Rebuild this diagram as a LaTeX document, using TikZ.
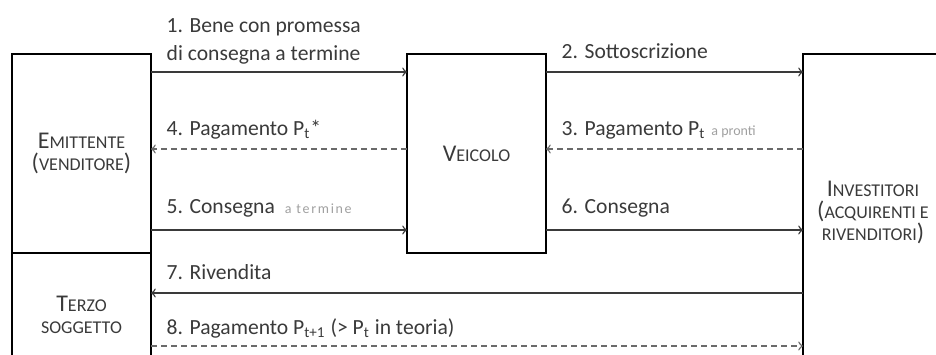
\documentclass[tikz,border=0pt]{standalone}
\usepackage{fontspec}
\setmainfont{Carlito}
\usepackage{xcolor}
\usepackage{tikz}
\usetikzlibrary{arrows, positioning}

\definecolor{txtgray}{HTML}{3A3A3A}
\definecolor{notegray}{HTML}{A0A0A0}
\definecolor{dashgray}{HTML}{6A6A6A}

\newcommand{\capsc}[2]{#1{\fontsize{9}{11}\selectfont #2}}
\newcommand{\smallsc}[1]{{\fontsize{9}{11}\selectfont #1}}
\newcommand{\notetxt}[1]{{\color{notegray}\fontsize{7}{8}\selectfont #1}}

\begin{document}
\begin{tikzpicture}[x=0.5pt, y=-0.5pt,
    party/.style={rectangle, draw, line width=1.4pt, outer sep=0pt, inner sep=0pt, minimum width=69.5pt, text=txtgray, align=center, font=\fontsize{12}{11}\selectfont},
    flow/.style={->, line width=0.7pt, draw=txtgray},
    back/.style={->, line width=0.7pt, draw=dashgray, dash pattern=on 3pt off 2pt},
    lbl/.style={anchor=base west, inner sep=0pt, xshift=7.5pt, yshift=7pt, text=txtgray, align=left, font=\fontsize{10.8}{14}\selectfont}]
    \useasboundingbox (0,0) rectangle (936,354);
    \clip (0,0) rectangle (936,354);

    \node (emit) [party, anchor=north west, minimum height=99.5pt] at (12,54) {\capsc{E}{MITTENTE}\\(\smallsc{VENDITORE})};
    \node (terzo) [party, below=0pt of emit, minimum height=62pt] {\capsc{T}{ERZO}\\\smallsc{SOGGETTO}};
    \node (veic) [party, anchor=north west, minimum height=99.5pt] at (407,54) {\capsc{V}{EICOLO}};
    \node (inv) [party, anchor=north west, minimum width=70pt, minimum height=158pt] at (803,54) {\capsc{I}{NVESTITORI}\\(\smallsc{ACQUIRENTI E}\\\smallsc{RIVENDITORI})};

    \draw [flow] ([yshift=-9pt]emit.north east) -- node[lbl, at start, yshift=-1pt] {1. Bene con promessa\\di consegna a termine} ([yshift=-9pt]veic.north west);
    \draw [flow] ([yshift=-9pt]veic.north east) -- node[lbl, at start] {2. Sottoscrizione} ([yshift=-9pt]inv.north west);
    \draw [back] ([yshift=-47.5pt]inv.north west) -- node[lbl, at end] {3. Pagamento P\textsubscript{t}\hspace{3pt}\notetxt{a pronti}} ([yshift=-47.5pt]veic.north east);
    \draw [back] ([yshift=-47.5pt]veic.north west) -- node[lbl, at end] {4. Pagamento P\textsubscript{t}*} ([yshift=-47.5pt]emit.north east);
    \draw [flow] ([yshift=-88pt]emit.north east) -- node[lbl, at start, yshift=1.5pt] {5. Consegna\hspace{5pt}\notetxt{\addfontfeature{LetterSpace=12}a termine}} ([yshift=-88pt]veic.north west);
    \draw [flow] ([yshift=-88pt]veic.north east) -- node[lbl, at start, yshift=1.5pt] {6. Consegna} ([yshift=-88pt]inv.north west);
    \draw [flow] ([yshift=-119.5pt]inv.north west) -- node[lbl, at end] {7. Rivendita} ([yshift=-20pt]terzo.north east);
    \draw [back] ([yshift=-46.5pt]terzo.north east) -- node[lbl, at start, yshift=-1pt] {8. Pagamento P\textsubscript{t+1} (> P\textsubscript{t} in teoria)} ([yshift=-146pt]inv.north west);
\end{tikzpicture}
\end{document}
